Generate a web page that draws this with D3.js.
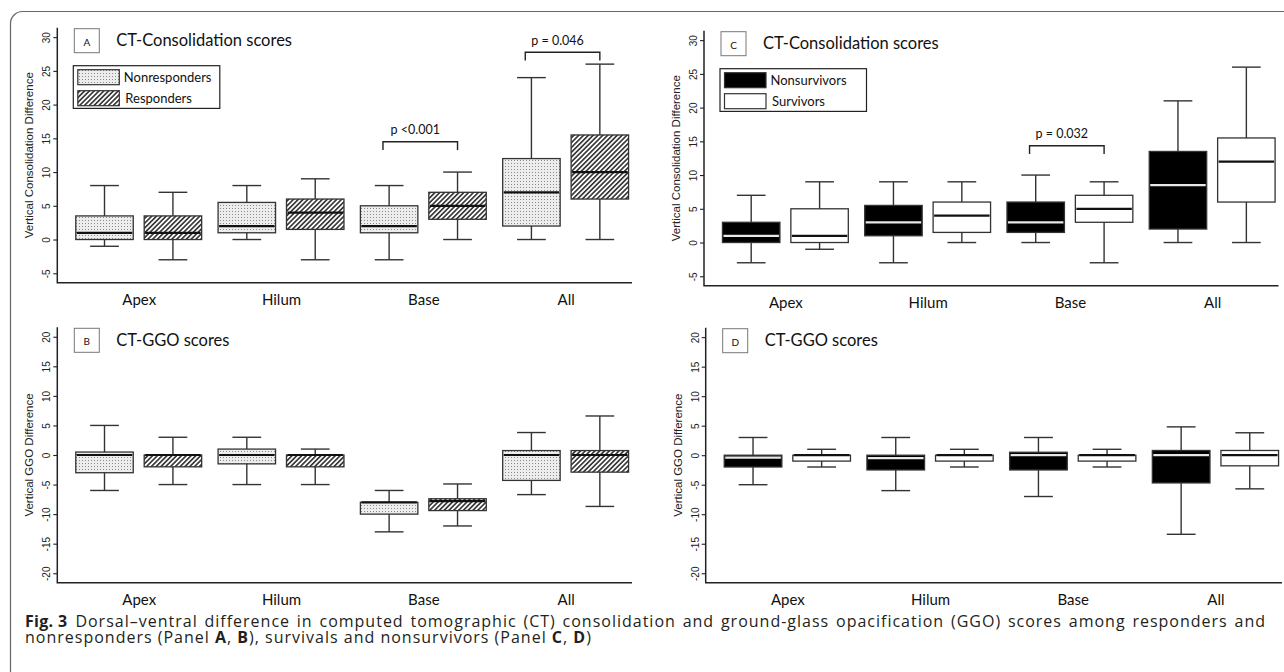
<!DOCTYPE html>
<html>
<head>
<meta charset="utf-8">
<script src="https://cdn.jsdelivr.net/npm/d3@7"></script>
<style>
  body { margin: 0; background: #fff; }
</style>
</head>
<body>
<div class="svg-container"></div>
<script>
// lung regions on the x axis
const groups = ["Apex", "Hilum", "Base", "All"];
const responseGroups = ["Nonresponders", "Responders"];
const survivalGroups = ["Nonsurvivors", "Survivors"];

// each box: [lower whisker, q1, median, q3, upper whisker]
const consolNonresponders = [[-1, 0, 1, 3.5, 8], [0, 1, 2, 5.5, 8], [-3, 1, 2, 5, 8], [0, 2, 7, 12, 24]];
const consolResponders = [[-3, 0, 1, 3.5, 7], [-3, 1.5, 4, 6, 9], [0, 3, 5, 7, 10], [0, 6, 10, 15.5, 26]];
const ggoNonresponders = [[-6, -3, 0, 0.5, 5], [-5, -1.5, 0, 1, 3], [-13, -10, -8, -8, -6], [-6.7, -4.3, 0, 0.75, 3.8]];
const ggoResponders = [[-5, -2, 0, 0, 3], [-5, -2, 0, 0, 1], [-12, -9.4, -7.8, -7.4, -4.9], [-8.7, -2.9, 0, 0.75, 6.6]];
const consolNonsurvivors = [[-3, 0, 1, 3, 7], [-3, 1, 3, 5.5, 9], [0, 1.5, 3, 6, 10], [0, 2, 8.5, 13.5, 21]];
const consolSurvivors = [[-1, 0, 1, 5, 9], [0, 1.5, 4, 6, 9], [-3, 3, 5, 7, 9], [0, 6, 12, 15.5, 26]];
const ggoNonsurvivors = [[-5, -2, -0.4, 0, 3], [-6, -2.5, -0.5, 0, 3], [-7, -2.5, 0, 0.5, 3], [-13.4, -4.7, 0, 0.8, 4.8]];
const ggoSurvivors = [[-2, -1, 0, 0, 1], [-2, -1, 0, 0, 1], [-2, -1, 0, 0, 1], [-5.7, -1.8, 0, 0.8, 3.8]];

// y axis ticks
const consolTicks = [-5, 0, 5, 10, 15, 20, 25, 30];
const ggoTicks = [-20, -15, -10, -5, 0, 5, 10, 15, 20];

// p values per region
const pConsolResponse = ["", "", "p <0.001", "p = 0.046"];
const pConsolSurvival = ["", "", "p = 0.032", ""];

const width = 1284;
const height = 672;
const chartFont = "Lato, 'Open Sans', sans-serif";
const axisFont = "'Liberation Sans', Arial, sans-serif";

const svg = d3
  .select(".svg-container")
  .append("svg")
  .attr("width", width)
  .attr("height", height);

// fill patterns
const defs = svg.append("defs");
const stipple = defs
  .append("pattern")
  .attr("id", "stipple")
  .attr("patternUnits", "userSpaceOnUse")
  .attr("width", 3)
  .attr("height", 3);
stipple.append("rect").attr("width", 3).attr("height", 3).attr("fill", "#ededed");
stipple.append("rect").attr("x", 1).attr("y", 1).attr("width", 1).attr("height", 1).attr("fill", "#8a8a8a");

const hatch = defs
  .append("pattern")
  .attr("id", "hatch")
  .attr("patternUnits", "userSpaceOnUse")
  .attr("width", 3.4)
  .attr("height", 3.4)
  .attr("patternTransform", "rotate(45)");
hatch.append("rect").attr("width", 3.4).attr("height", 3.4).attr("fill", "#fff");
hatch
  .append("line")
  .attr("x1", 1.7)
  .attr("x2", 1.7)
  .attr("y1", 0)
  .attr("y2", 3.4)
  .attr("stroke", "#111")
  .attr("stroke-width", 1.4);

// outer frame
svg
  .append("rect")
  .attr("x", 10.5)
  .attr("y", 11.5)
  .attr("width", 1300)
  .attr("height", 690)
  .attr("rx", 12)
  .attr("fill", "none")
  .attr("stroke", "#666")
  .attr("stroke-width", 1.2);

// box positions in axis units
const xDomain = [0.31, 8.71];
const groupCenter = (i) => 1.5 + 2.08 * i;
const boxOffset = [-0.5, 0.5];
const boxHalf = 0.42;
const capHalf = 0.21;

function drawPanel(p) {
  const x = d3.scaleLinear().domain(xDomain).range([p.x0, p.x1]);
  const pad = (p.ylim[1] - p.ylim[0]) * 0.04;
  const y = d3
    .scaleLinear()
    .domain([p.ylim[0] - pad, p.ylim[1] + pad])
    .range([p.yBottom, p.yTop]);

  const g = svg.append("g");

  // y axis ticks with rotated labels
  g.append("g")
    .attr("transform", `translate(${p.x0},0)`)
    .call(d3.axisLeft(y).tickValues(p.ticks).tickSize(4).tickFormat((d) => String(d)))
    .call((a) => a.select(".domain").remove())
    .call((a) => a.selectAll("line").attr("stroke", "#222").attr("stroke-width", 1.1))
    .call((a) =>
      a
        .selectAll("text")
        .attr("transform", "rotate(-90)")
        .attr("x", 0)
        .attr("y", -7)
        .attr("dy", 0)
        .attr("text-anchor", "middle")
        .attr("fill", "#222")
        .style("font-family", axisFont)
        .style("font-size", "10px")
    );

  // y axis title
  g.append("text")
    .attr("transform", `translate(${p.x0 - 24},${(p.yTop + p.yBottom) / 2}) rotate(-90)`)
    .attr("text-anchor", "middle")
    .attr("fill", "#222")
    .style("font-family", axisFont)
    .style("font-size", "11.5px")
    .text(p.yLabel);

  // L shaped frame
  g.append("path")
    .attr("d", `M${p.x0},${p.yTop}V${p.yBottom}H${p.x1}`)
    .attr("fill", "none")
    .attr("stroke", "#222")
    .attr("stroke-width", 1.5);

  // x axis labels
  g.append("g")
    .attr("transform", `translate(0,${p.yBottom})`)
    .call(
      d3
        .axisBottom(x)
        .tickValues(groups.map((d, i) => groupCenter(i)))
        .tickSize(0)
        .tickFormat((d, i) => groups[i])
    )
    .call((a) => a.select(".domain").remove())
    .call((a) =>
      a
        .selectAll("text")
        .attr("y", 22.3)
        .attr("dy", 0)
        .attr("fill", "#111")
        .style("font-family", chartFont)
        .style("font-size", "15px")
    );

  // boxes
  p.series.forEach((data, s) => {
    const bg = g.append("g");
    data.forEach((v, i) => {
      const c = groupCenter(i) + boxOffset[s];
      const [lo, q1, med, q3, hi] = v;
      bg.append("line")
        .attr("x1", x(c))
        .attr("x2", x(c))
        .attr("y1", y(lo))
        .attr("y2", y(hi))
        .attr("stroke", "#333")
        .attr("stroke-width", 1.4);
      [lo, hi].forEach((w) => {
        bg.append("line")
          .attr("x1", x(c - capHalf))
          .attr("x2", x(c + capHalf))
          .attr("y1", y(w))
          .attr("y2", y(w))
          .attr("stroke", "#333")
          .attr("stroke-width", 1.4);
      });
      bg.append("rect")
        .attr("x", x(c - boxHalf))
        .attr("y", y(q3))
        .attr("width", x(c + boxHalf) - x(c - boxHalf))
        .attr("height", y(q1) - y(q3))
        .attr("fill", p.fills[s])
        .attr("stroke", "#333")
        .attr("stroke-width", 1.3);
      bg.append("line")
        .attr("x1", x(c - boxHalf) + 1)
        .attr("x2", x(c + boxHalf) - 1)
        .attr("y1", y(med))
        .attr("y2", y(med))
        .attr("stroke", p.medianColors[s])
        .attr("stroke-width", 2.2);
    });
  });

  // p value brackets
  p.pvals.forEach((label, i) => {
    if (!label) return;
    const xl = x(groupCenter(i) + boxOffset[0] - 0.09);
    const xr = x(groupCenter(i) + boxOffset[1]);
    const yb = y(p.bracketLevels[i]);
    g.append("path")
      .attr("d", `M${xl},${yb + 8.3}V${yb}H${xr}V${yb + 8.3}`)
      .attr("fill", "none")
      .attr("stroke", "#222")
      .attr("stroke-width", 1.4);
    g.append("text")
      .attr("x", (xl + xr) / 2 - 5)
      .attr("y", yb - 7.5)
      .attr("text-anchor", "middle")
      .attr("fill", "#111")
      .style("font-family", chartFont)
      .style("font-size", "12.5px")
      .text(label);
  });

  // panel letter and title
  g.append("rect")
    .attr("x", p.x0 + 17)
    .attr("y", p.yTop + 1)
    .attr("width", 25)
    .attr("height", 24)
    .attr("fill", "#fff")
    .attr("stroke", "#777")
    .attr("stroke-width", 1);
  g.append("text")
    .attr("x", p.x0 + 29.5)
    .attr("y", p.yTop + 18)
    .attr("text-anchor", "middle")
    .attr("fill", "#111")
    .style("font-family", chartFont)
    .style("font-size", "10px")
    .text(p.letter);
  g.append("text")
    .attr("x", p.x0 + 59)
    .attr("y", p.yTop + 18.5)
    .attr("fill", "#111")
    .style("font-family", chartFont)
    .style("font-size", "16.5px")
    .text(p.title);

  // legend
  if (p.legend) {
    const lx = p.x0 + 16;
    const ly = p.yTop + 38;
    const lg = g.append("g");
    lg.append("rect")
      .attr("x", lx)
      .attr("y", ly)
      .attr("width", 146.5)
      .attr("height", 42.7)
      .attr("fill", "#fff")
      .attr("stroke", "#222")
      .attr("stroke-width", 1.2);
    p.legend.forEach((name, s) => {
      const sy = ly + 4 + s * 21;
      lg.append("rect")
        .attr("x", lx + 4.5)
        .attr("y", sy)
        .attr("width", 41.5)
        .attr("height", 15)
        .attr("fill", p.fills[s])
        .attr("stroke", "#333")
        .attr("stroke-width", 1.2);
      lg.append("text")
        .attr("x", lx + 50.5 + s * 1.5)
        .attr("y", sy + 12.5)
        .attr("fill", "#111")
        .style("font-family", chartFont)
        .style("font-size", "13px")
        .text(name);
    });
  }
}

drawPanel({
  x0: 57.3, x1: 632, yTop: 27.7, yBottom: 282.7,
  ylim: [-5, 30], ticks: consolTicks,
  yLabel: "Vertical Consolidation Difference",
  letter: "A", title: "CT-Consolidation scores",
  series: [consolNonresponders, consolResponders],
  fills: ["url(#stipple)", "url(#hatch)"],
  medianColors: ["#111", "#111"],
  legend: responseGroups,
  pvals: pConsolResponse,
  bracketLevels: [0, 0, 14.5, 27.75],
});

drawPanel({
  x0: 57.3, x1: 632, yTop: 327.3, yBottom: 582.7,
  ylim: [-20, 20], ticks: ggoTicks,
  yLabel: "Vertical GGO Difference",
  letter: "B", title: "CT-GGO scores",
  series: [ggoNonresponders, ggoResponders],
  fills: ["url(#stipple)", "url(#hatch)"],
  medianColors: ["#111", "#111"],
  legend: null,
  pvals: [],
  bracketLevels: [],
});

drawPanel({
  x0: 704, x1: 1278.5, yTop: 30.7, yBottom: 285.7,
  ylim: [-5, 30], ticks: consolTicks,
  yLabel: "Vertical Consolidation Difference",
  letter: "C", title: "CT-Consolidation scores",
  series: [consolNonsurvivors, consolSurvivors],
  fills: ["#000", "#fff"],
  medianColors: ["#e8e8e8", "#111"],
  legend: survivalGroups,
  pvals: pConsolSurvival,
  bracketLevels: [0, 0, 14.35, 0],
});

drawPanel({
  x0: 705.7, x1: 1282, yTop: 327.7, yBottom: 582.7,
  ylim: [-20, 20], ticks: ggoTicks,
  yLabel: "Vertical GGO Difference",
  letter: "D", title: "CT-GGO scores",
  series: [ggoNonsurvivors, ggoSurvivors],
  fills: ["#000", "#fff"],
  medianColors: ["#e8e8e8", "#111"],
  legend: null,
  pvals: [],
  bracketLevels: [],
});

// figure caption
const caption = svg
  .append("g")
  .attr("fill", "#231f20")
  .style("font-family", "'Open Sans', sans-serif")
  .style("font-size", "16px")
  .style("letter-spacing", "1px");

const line1 = caption.append("text").attr("x", 25).attr("y", 626.7);
line1.append("tspan").attr("font-weight", "bold").style("letter-spacing", "0.3px").text("Fig. 3");
const line1Body = line1
  .append("tspan")
  .attr("dx", 8)
  .text("Dorsal–ventral difference in computed tomographic (CT) consolidation and ground-glass opacification (GGO) scores among responders and");

// justify the first caption line to the right edge
const spaceCount = line1Body.text().split(" ").length - 1;
const extra = 1258 - (25 + line1.node().getComputedTextLength());
if (extra > 0) line1Body.style("word-spacing", `${extra / spaceCount}px`);

const line2 = caption.append("text").attr("x", 25).attr("y", 643.3);
[
  ["nonresponders (Panel ", false],
  ["A", true],
  [", ", false],
  ["B", true],
  ["), survivals and nonsurvivors (Panel ", false],
  ["C", true],
  [", ", false],
  ["D", true],
  [")", false],
].forEach(([t, bold]) => {
  line2.append("tspan").attr("font-weight", bold ? "bold" : null).text(t);
});
</script>
</body>
</html>
